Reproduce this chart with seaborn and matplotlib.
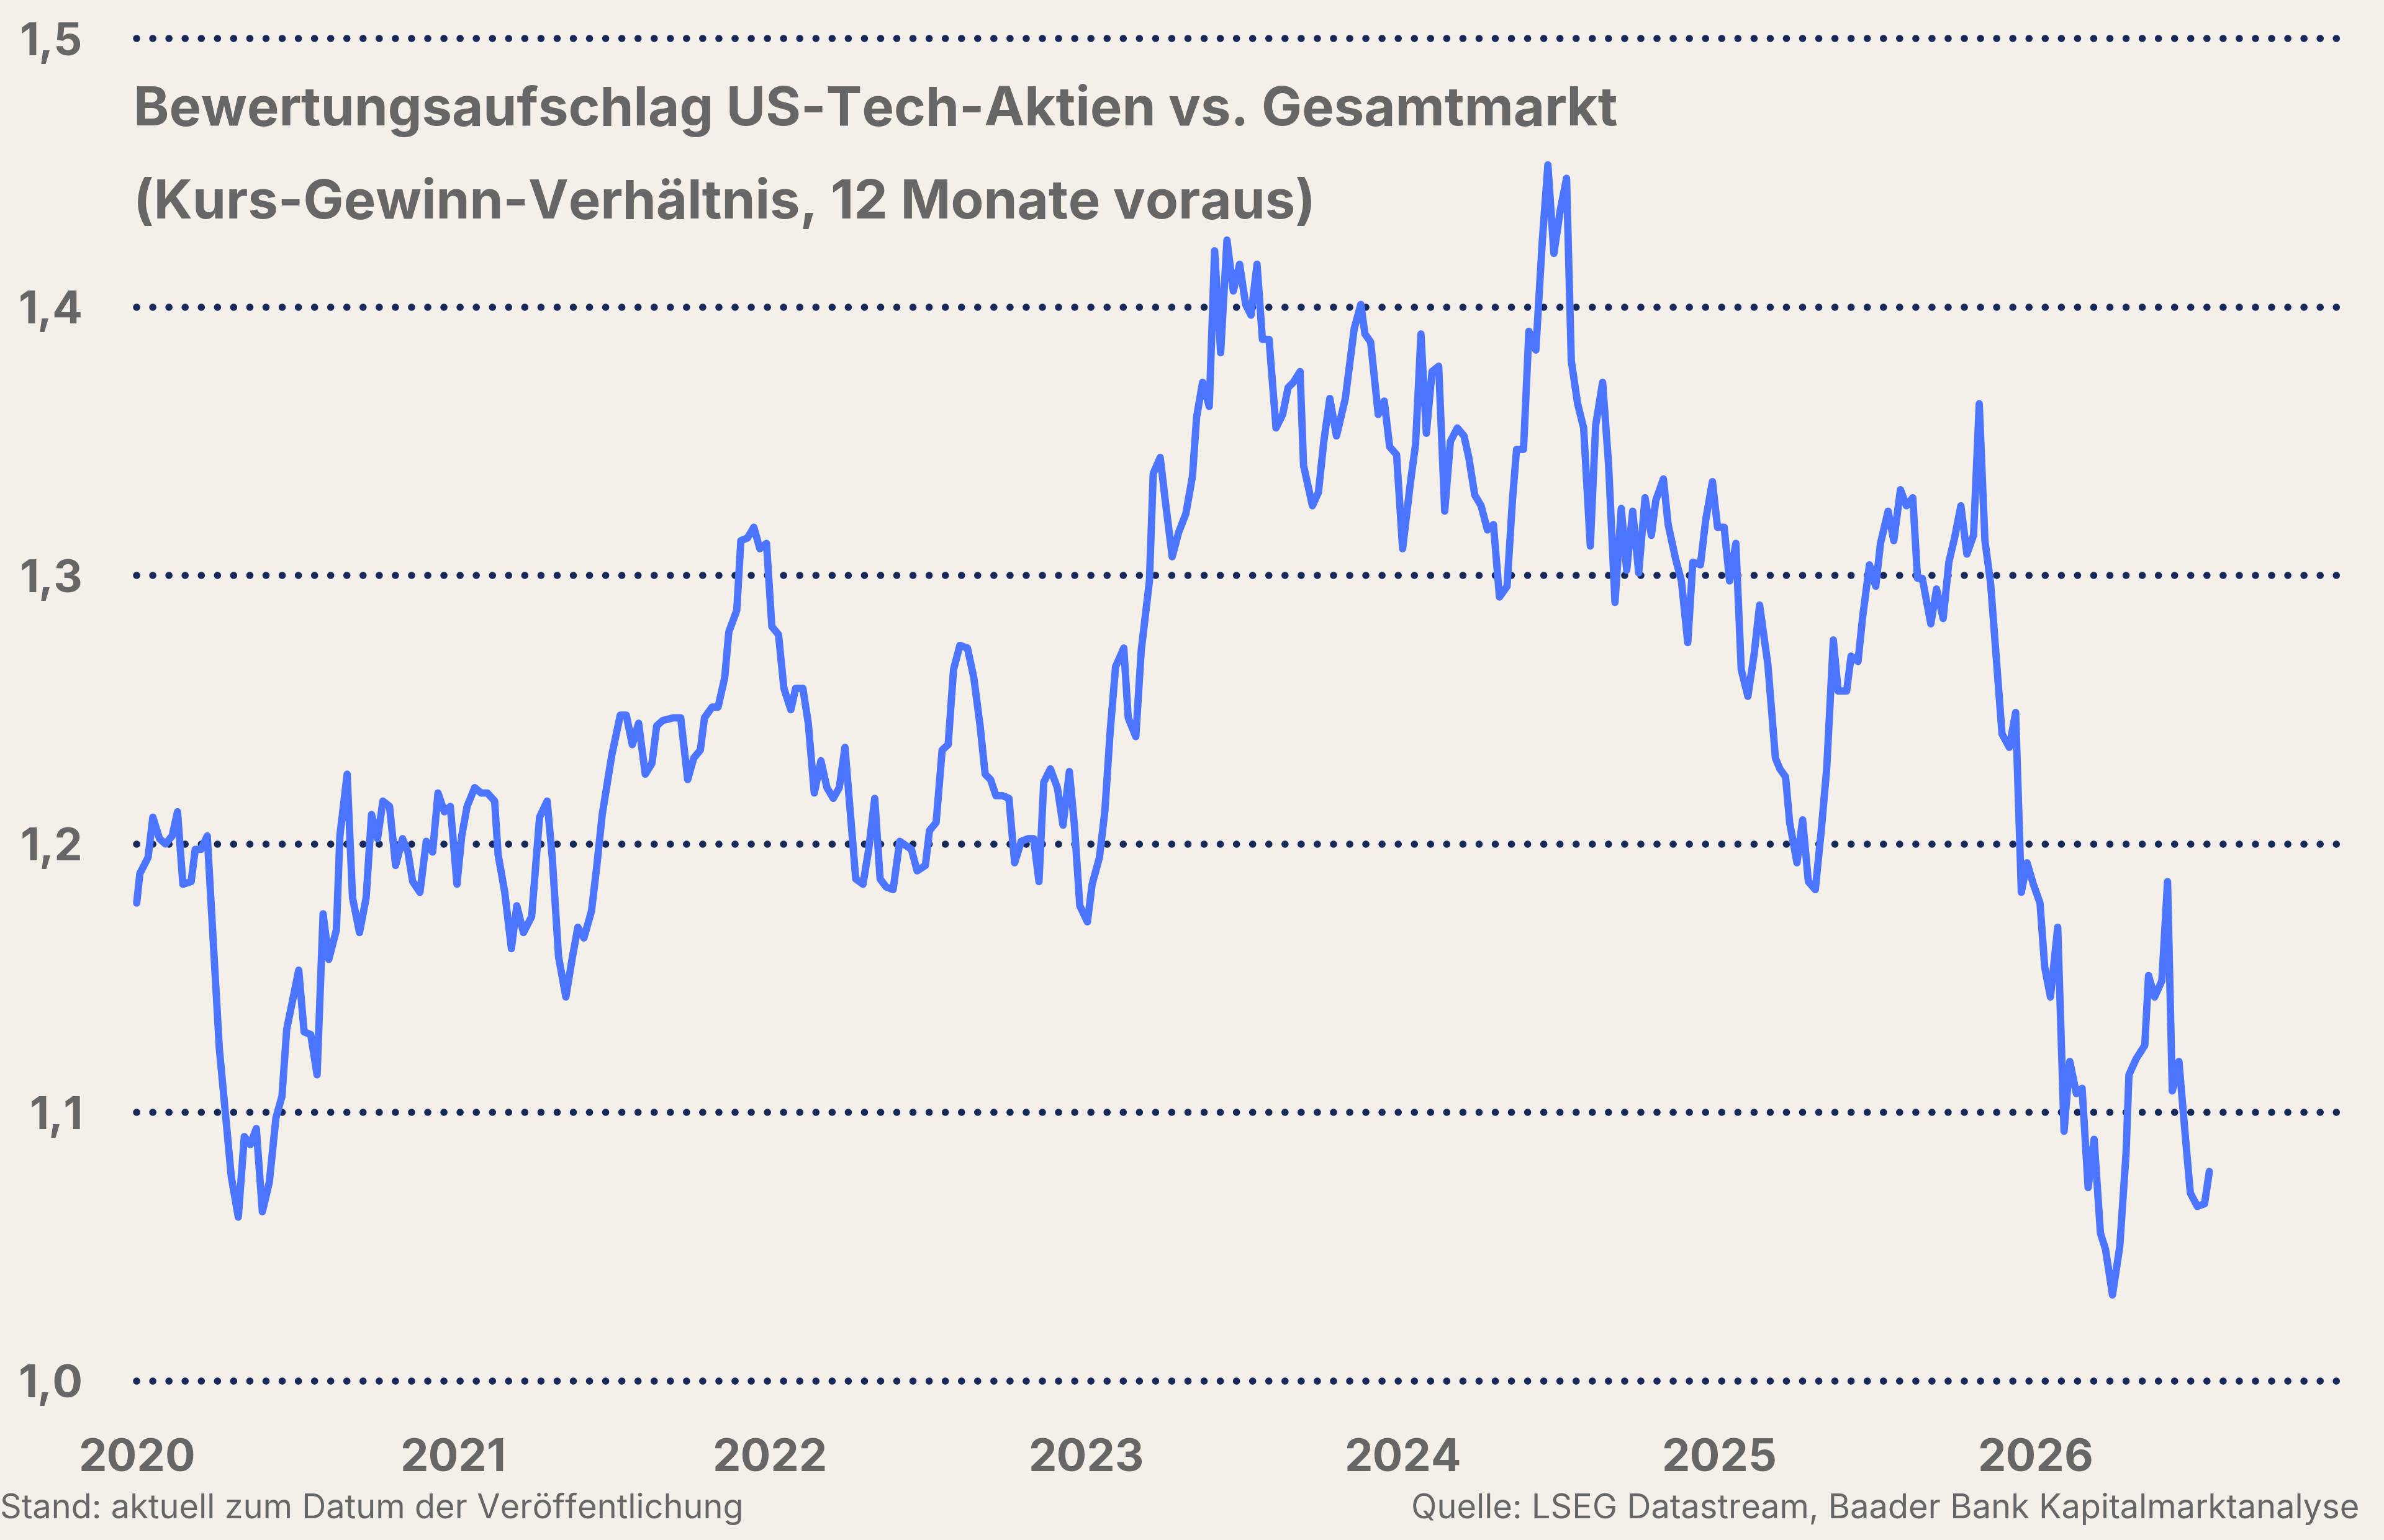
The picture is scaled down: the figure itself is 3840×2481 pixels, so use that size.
import numpy as np
import pandas as pd
import seaborn as sns
import matplotlib.pyplot as plt

# Bewertungsaufschlag US-Tech vs. Gesamtmarkt (KGV 12M voraus), weekly
t_2020 = [2020.000, 2020.010, 2020.036, 2020.051, 2020.072, 2020.091, 2020.112, 2020.129, 2020.146, 2020.172,
          2020.185, 2020.203, 2020.223, 2020.261, 2020.299, 2020.321, 2020.340, 2020.359, 2020.378, 2020.397,
          2020.419, 2020.440, 2020.459, 2020.474, 2020.512, 2020.529, 2020.550, 2020.570, 2020.589, 2020.607,
          2020.631, 2020.642, 2020.665, 2020.682, 2020.704, 2020.725, 2020.742, 2020.761, 2020.778, 2020.799,
          2020.818, 2020.840, 2020.857, 2020.872, 2020.895, 2020.915, 2020.935, 2020.952, 2020.972, 2020.991,
          2021.012, 2021.027, 2021.044, 2021.068, 2021.088, 2021.108, 2021.131, 2021.142, 2021.163, 2021.184,
          2021.201, 2021.222, 2021.248, 2021.273, 2021.297]
v_2020 = [1.178, 1.189, 1.195, 1.210, 1.202, 1.200, 1.203, 1.212, 1.185, 1.186,
          1.198, 1.198, 1.203, 1.124, 1.076, 1.061, 1.091, 1.088, 1.094, 1.063,
          1.074, 1.098, 1.106, 1.131, 1.153, 1.130, 1.129, 1.114, 1.174, 1.157,
          1.168, 1.203, 1.226, 1.180, 1.167, 1.180, 1.211, 1.202, 1.216, 1.214,
          1.192, 1.202, 1.197, 1.186, 1.182, 1.201, 1.197, 1.219, 1.212, 1.214,
          1.185, 1.203, 1.214, 1.221, 1.219, 1.219, 1.216, 1.196, 1.182, 1.161,
          1.177, 1.167, 1.173, 1.210, 1.216]

t_2021 = [2021.313, 2021.333, 2021.356, 2021.377, 2021.394, 2021.413, 2021.437, 2021.454, 2021.471, 2021.501,
          2021.528, 2021.547, 2021.566, 2021.586, 2021.607, 2021.628, 2021.643, 2021.662, 2021.696, 2021.719,
          2021.741, 2021.760, 2021.781, 2021.794, 2021.818, 2021.837, 2021.858, 2021.871, 2021.896, 2021.909,
          2021.930, 2021.950, 2021.969, 2021.990, 2022.007, 2022.028, 2022.045, 2022.067, 2022.082, 2022.105,
          2022.122, 2022.141, 2022.162, 2022.181, 2022.201, 2022.220, 2022.238, 2022.254, 2022.272, 2022.295,
          2022.313, 2022.332, 2022.349, 2022.368, 2022.390, 2022.411, 2022.448, 2022.466, 2022.492, 2022.505,
          2022.526, 2022.545, 2022.564, 2022.581, 2022.601]
v_2021 = [1.195, 1.158, 1.143, 1.158, 1.169, 1.165, 1.175, 1.192, 1.211, 1.233,
          1.248, 1.248, 1.237, 1.245, 1.226, 1.230, 1.244, 1.246, 1.247, 1.247,
          1.224, 1.232, 1.235, 1.247, 1.251, 1.251, 1.262, 1.279, 1.287, 1.313,
          1.314, 1.318, 1.310, 1.312, 1.281, 1.278, 1.258, 1.250, 1.258, 1.258,
          1.245, 1.219, 1.231, 1.221, 1.217, 1.221, 1.236, 1.213, 1.187, 1.185,
          1.198, 1.217, 1.187, 1.184, 1.183, 1.201, 1.198, 1.190, 1.192, 1.205,
          1.208, 1.235, 1.237, 1.265, 1.274]

t_2022 = [2022.625, 2022.645, 2022.665, 2022.681, 2022.698, 2022.715, 2022.736, 2022.756, 2022.774, 2022.795,
          2022.817, 2022.834, 2022.851, 2022.866, 2022.887, 2022.909, 2022.927, 2022.947, 2022.963, 2022.980,
          2023.004, 2023.019, 2023.042, 2023.059, 2023.076, 2023.093, 2023.119, 2023.133, 2023.157, 2023.174,
          2023.200, 2023.212, 2023.234, 2023.251, 2023.272, 2023.292, 2023.315, 2023.336, 2023.349, 2023.368,
          2023.389, 2023.406, 2023.425, 2023.445, 2023.465, 2023.485, 2023.504, 2023.521, 2023.540, 2023.557,
          2023.578, 2023.600, 2023.621, 2023.638, 2023.655, 2023.676, 2023.687, 2023.715, 2023.734, 2023.751,
          2023.770, 2023.791, 2023.819, 2023.847, 2023.868, 2023.881, 2023.899]
v_2022 = [1.273, 1.262, 1.244, 1.226, 1.224, 1.218, 1.218, 1.217, 1.193, 1.201,
          1.202, 1.202, 1.186, 1.223, 1.228, 1.221, 1.207, 1.227, 1.207, 1.177,
          1.171, 1.185, 1.195, 1.212, 1.242, 1.266, 1.273, 1.247, 1.240, 1.272,
          1.298, 1.338, 1.344, 1.327, 1.307, 1.316, 1.323, 1.337, 1.359, 1.372,
          1.363, 1.421, 1.383, 1.425, 1.406, 1.416, 1.401, 1.397, 1.416, 1.388,
          1.388, 1.355, 1.360, 1.370, 1.372, 1.376, 1.341, 1.326, 1.331, 1.350,
          1.366, 1.352, 1.366, 1.392, 1.401, 1.390, 1.387]

t_2024 = [2023.923, 2023.942, 2023.959, 2023.981, 2024.000, 2024.024, 2024.041, 2024.058, 2024.075, 2024.093,
          2024.114, 2024.133, 2024.151, 2024.173, 2024.194, 2024.209, 2024.228, 2024.248, 2024.268, 2024.287,
          2024.306, 2024.330, 2024.347, 2024.360, 2024.382, 2024.399, 2024.421, 2024.441, 2024.459, 2024.478,
          2024.498, 2024.518, 2024.533, 2024.553, 2024.572, 2024.593, 2024.610, 2024.632, 2024.651, 2024.671,
          2024.691, 2024.708, 2024.727, 2024.746, 2024.766, 2024.786, 2024.800, 2024.824, 2024.839, 2024.863,
          2024.881, 2024.901, 2024.917, 2024.941, 2024.958, 2024.979, 2024.995, 2025.016, 2025.033, 2025.053,
          2025.070, 2025.091, 2025.111, 2025.128, 2025.154]
v_2024 = [1.360, 1.365, 1.348, 1.345, 1.310, 1.334, 1.349, 1.390, 1.353, 1.376,
          1.378, 1.324, 1.350, 1.355, 1.352, 1.344, 1.330, 1.326, 1.317, 1.319,
          1.292, 1.296, 1.328, 1.347, 1.347, 1.391, 1.384, 1.424, 1.453, 1.420,
          1.436, 1.448, 1.380, 1.364, 1.355, 1.311, 1.356, 1.372, 1.341, 1.290,
          1.325, 1.302, 1.324, 1.301, 1.329, 1.315, 1.328, 1.336, 1.319, 1.306,
          1.298, 1.275, 1.305, 1.304, 1.321, 1.335, 1.318, 1.318, 1.298, 1.312,
          1.265, 1.255, 1.271, 1.289, 1.267]

t_2025 = [2025.178, 2025.192, 2025.210, 2025.223, 2025.246, 2025.264, 2025.282, 2025.304, 2025.322, 2025.340,
          2025.361, 2025.376, 2025.403, 2025.417, 2025.439, 2025.453, 2025.475, 2025.495, 2025.510, 2025.534,
          2025.552, 2025.573, 2025.592, 2025.612, 2025.627, 2025.642, 2025.669, 2025.687, 2025.708, 2025.726,
          2025.744, 2025.764, 2025.783, 2025.804, 2025.822, 2025.840, 2025.858, 2025.876, 2025.894, 2025.917,
          2025.937, 2025.955, 2025.973, 2025.993, 2026.014, 2026.029, 2026.047, 2026.070, 2026.090, 2026.108,
          2026.129, 2026.147, 2026.166, 2026.185, 2026.205, 2026.221, 2026.243, 2026.266, 2026.286, 2026.295,
          2026.318, 2026.345, 2026.357, 2026.376, 2026.399, 2026.417, 2026.432, 2026.453, 2026.474, 2026.489,
          2026.511, 2026.534, 2026.549]
v_2025 = [1.232, 1.228, 1.225, 1.208, 1.193, 1.209, 1.186, 1.183, 1.204, 1.228,
          1.276, 1.257, 1.257, 1.270, 1.268, 1.284, 1.304, 1.296, 1.312, 1.324,
          1.313, 1.332, 1.326, 1.329, 1.299, 1.299, 1.282, 1.295, 1.284, 1.305,
          1.314, 1.326, 1.308, 1.315, 1.364, 1.313, 1.297, 1.269, 1.241, 1.236,
          1.249, 1.182, 1.193, 1.185, 1.178, 1.154, 1.143, 1.169, 1.093, 1.119,
          1.107, 1.109, 1.072, 1.090, 1.055, 1.049, 1.032, 1.050, 1.085, 1.114,
          1.120, 1.125, 1.151, 1.143, 1.149, 1.186, 1.108, 1.119, 1.090, 1.070,
          1.065, 1.066, 1.078]

y_ticks = [1.0, 1.1, 1.2, 1.3, 1.4, 1.5]
y_labels = ["1,0", "1,1", "1,2", "1,3", "1,4", "1,5"]
x_ticks = [2020, 2021, 2022, 2023, 2024, 2025, 2026]
x_labels = ["2020", "2021", "2022", "2023", "2024", "2025", "2026"]

title_1 = "Bewertungsaufschlag US-Tech-Aktien vs. Gesamtmarkt"
title_2 = "(Kurs-Gewinn-Verhältnis, 12 Monate voraus)"
note_left = "Stand: aktuell zum Datum der Veröffentlichung"
note_right = "Quelle: LSEG Datastream, Baader Bank Kapitalmarktanalyse"

BG = "#F5EFE9"
LINE = "#4B75FF"
DOT = "#15295B"
GREY = "#666666"

df = pd.DataFrame({
    "t": np.concatenate([t_2020, t_2021, t_2022, t_2024, t_2025]),
    "kgv": np.concatenate([v_2020, v_2021, v_2022, v_2024, v_2025]),
})

sns.set_theme(style="white")
plt.rcParams["font.family"] = ["Inter", "DejaVu Sans"]

fig = plt.figure(figsize=(38.4, 24.81), dpi=100, facecolor=BG)
ax = fig.add_axes([0.0507, 0.0859, 0.9359, 0.9064])
ax.set_facecolor(BG)

x_lo, x_hi = 2019.95, 2027.0
grid_end = 2026.975
ax.set_xlim(x_lo, x_hi)
ax.set_ylim(0.99, 1.51)

# dotted horizontal gridlines
f0 = (2020 - x_lo) / (x_hi - x_lo)
f1 = (grid_end - x_lo) / (x_hi - x_lo)
for yv in y_ticks:
    ax.axhline(yv, f0, f1, color=DOT, linewidth=8.3, linestyle=(0, (0.01, 2.25)),
               dash_capstyle="round", zorder=1)

sns.lineplot(data=df, x="t", y="kgv", color=LINE, linewidth=8.5, ax=ax, zorder=3)

ax.set_xticks(x_ticks, labels=x_labels, fontweight="bold")
ax.set_yticks(y_ticks, labels=y_labels, fontweight="bold")
ax.tick_params(axis="both", length=0, labelsize=52, labelcolor=GREY)
ax.tick_params(axis="x", pad=36)
ax.tick_params(axis="y", pad=44)
ax.set_xlabel("")
ax.set_ylabel("")
for s in ax.spines.values():
    s.set_visible(False)

fig.text(0.056, 0.9186, title_1, fontsize=62.5, fontweight="bold", color=GREY, va="baseline", ha="left")
fig.text(0.056, 0.8581, title_2, fontsize=62.5, fontweight="bold", color=GREY, va="baseline", ha="left")

fig.text(0.0, 0.0141, note_left, fontsize=39, color=GREY, va="baseline", ha="left")
fig.text(0.9896, 0.0141, note_right, fontsize=39, color=GREY, va="baseline", ha="right")

fig.savefig("out.png", dpi=100, facecolor=BG)
